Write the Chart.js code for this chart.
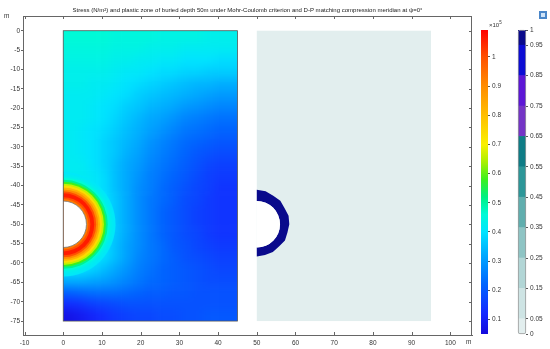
<!DOCTYPE html>
<html><head><meta charset="utf-8">
<script src="https://cdn.jsdelivr.net/npm/chart.js@4.4.1/dist/chart.umd.min.js"></script>
<style>
html,body{margin:0;padding:0;background:#fff;}
#wrap{position:relative;width:550px;height:349px;overflow:hidden;background:#fff;}
canvas{position:absolute;top:0;}
</style></head><body>
<div id="wrap">
<canvas id="main" width="550" height="349" style="left:0;width:550px;height:349px"></canvas>
<canvas id="cb1" width="40" height="349" style="left:476px;width:40px;height:349px"></canvas>
<canvas id="cb2" width="36" height="349" style="left:514px;width:36px;height:349px"></canvas>
</div>
<script>
// ---------- DATA ----------
const titleText = "Stress (N/m\u00B2) and plastic zone of buried depth 50m under Mohr-Coulomb criterion and D-P matching compression meridian at \u03C8=0\u00B0";
const xTicks = [-10,0,10,20,30,40,50,60,70,80,90,100];
const yTicks = [0,-5,-10,-15,-20,-25,-30,-35,-40,-45,-50,-55,-60,-65,-70,-75];
const leftDomainX = [0,45];
const rightDomainX = [50,95];
const domainY = [-75,0];
const holeCenterY = -50;
const holeRadius = 6;

// stress field (x1e5 N/m^2) on 3 m cells
const stressX = [1.5,4.5,7.5,10.5,13.5,16.5,19.5,22.5,25.5,28.5,31.5,34.5,37.5,40.5,43.5];
const stressY = [-1.5,-4.5,-7.5,-10.5,-13.5,-16.5,-19.5,-22.5,-25.5,-28.5,-31.5,-34.5,-37.5,-40.5,-43.5,-46.5,-49.5,-52.5,-55.5,-58.5,-61.5,-64.5,-67.5,-70.5,-73.5];
const stressGrid = [
 [.46,.46,.46,.46,.45,.45,.45,.45,.44,.44,.44,.44,.43,.43,.43],
 [.45,.45,.45,.45,.44,.44,.44,.43,.43,.43,.42,.42,.42,.42,.42],
 [.44,.44,.44,.44,.43,.43,.42,.42,.41,.41,.40,.40,.40,.39,.39],
 [.43,.43,.43,.43,.42,.41,.41,.40,.39,.39,.38,.38,.37,.37,.37],
 [.43,.43,.42,.42,.41,.40,.39,.38,.37,.36,.35,.34,.34,.33,.33],
 [.42,.42,.42,.41,.40,.39,.37,.36,.35,.34,.33,.32,.31,.30,.30],
 [.42,.42,.41,.40,.39,.37,.36,.34,.33,.32,.30,.29,.28,.27,.27],
 [.42,.42,.41,.40,.38,.36,.34,.32,.31,.29,.27,.26,.25,.24,.24],
 [.42,.41,.40,.39,.37,.35,.33,.31,.29,.27,.25,.24,.23,.22,.22],
 [.42,.41,.40,.38,.36,.34,.32,.29,.27,.25,.23,.22,.21,.20,.20],
 [.42,.41,.40,.38,.36,.33,.31,.28,.26,.24,.22,.20,.19,.18,.18],
 [.42,.42,.40,.38,.35,.32,.30,.27,.25,.23,.21,.19,.17,.16,.16],
 [.42,.42,.41,.39,.35,.32,.29,.26,.24,.22,.20,.18,.16,.15,.15],
 [.42,.42,.41,.39,.35,.32,.28,.26,.23,.21,.19,.17,.16,.14,.14],
 [.42,.42,.42,.40,.36,.32,.28,.25,.23,.21,.18,.17,.15,.14,.14],
 [.42,.42,.42,.40,.36,.32,.28,.25,.22,.20,.18,.16,.15,.14,.14],
 [.42,.42,.42,.41,.36,.32,.28,.25,.22,.20,.18,.16,.15,.14,.14],
 [.42,.42,.42,.40,.36,.32,.28,.25,.22,.20,.18,.17,.15,.14,.14],
 [.42,.42,.42,.40,.35,.31,.28,.25,.23,.20,.19,.17,.16,.15,.15],
 [.42,.42,.41,.39,.35,.31,.27,.25,.23,.21,.19,.18,.17,.16,.16],
 [.40,.40,.38,.35,.32,.29,.26,.24,.22,.21,.20,.19,.18,.17,.17],
 [.33,.33,.32,.31,.29,.27,.25,.23,.22,.21,.20,.19,.18,.18,.18],
 [.22,.23,.24,.24,.24,.23,.22,.21,.21,.20,.20,.19,.19,.19,.19],
 [.13,.14,.16,.17,.18,.19,.19,.19,.19,.19,.19,.19,.19,.19,.19],
 [.07,.09,.11,.13,.15,.16,.17,.17,.18,.18,.19,.19,.20,.20,.20]
];
// stress around the opening, by distance from its centre (m)
const ringEdges  = [6,6.5,7,7.5,8,8.5,9,9.5,10,10.5,11,11.5,12,12.5,13,13.5];
const ringStress = [.93,1.00,1.06,1.06,1.00,.90,.82,.74,.66,.58,.51,.46,.43,.42,.41];

// plastic zone outer boundary (angle in degrees, radius in m)
const plasticAngle  = [-90,-75,-60,-45,-30,-15,0,15,30,45,60,75,90];
const plasticOuterR = [8.3,8.2,8.3,8.1,8.4,8.2,8.4,8.5,8.3,8.6,8.5,8.8,8.9];

// colour bars
const stressRange = [0.05,1.092];
const stressBarTicks = [0.1,0.2,0.3,0.4,0.5,0.6,0.7,0.8,0.9,1];
const plasticBandEdges = [0,0.05,0.15,0.25,0.35,0.45,0.55,0.65,0.75,0.85,0.95,1];
const plasticBarTicks = [0,0.05,0.15,0.25,0.35,0.45,0.55,0.65,0.75,0.85,0.95,1];

// ---------- STYLE ----------
const plasticBandColors = ['rgb(226,238,238)','rgb(206,228,228)','rgb(178,214,214)','rgb(142,196,196)','rgb(96,174,174)','rgb(44,150,152)','rgb(14,124,134)','rgb(116,52,198)','rgb(92,22,214)','rgb(12,12,212)','rgb(10,10,140)'];
const jetStops = [
 [0.05,[20,10,220]],[0.12,[20,40,255]],[0.22,[0,100,255]],[0.32,[0,168,255]],
 [0.40,[0,228,255]],[0.46,[0,250,215]],[0.52,[0,240,130]],[0.58,[60,240,30]],
 [0.64,[170,240,0]],[0.70,[250,240,0]],[0.80,[255,190,0]],[0.90,[255,140,0]],
 [1.00,[255,80,0]],[1.092,[255,0,0]]
];
function jetRGB(v){
  if(v<=jetStops[0][0]) return jetStops[0][1];
  for(let i=1;i<jetStops.length;i++){
    if(v<=jetStops[i][0]){
      const [a,ca]=jetStops[i-1],[b,cb]=jetStops[i];const t=(v-a)/(b-a);
      return ca.map((c,k)=>Math.round(c+(cb[k]-c)*t));
    }
  }
  return jetStops[jetStops.length-1][1];
}
const jet = v => 'rgb('+jetRGB(v).join(',')+')';
const FONT = '"Liberation Sans", Arial, sans-serif';
const TXT = '#333';
const AX = '#666';

// ---------- MAIN CHART ----------
const fieldPlugin = {
  id:'fields',
  beforeDatasetsDraw(chart){
    const {ctx, scales:{x:xs,y:ys}} = chart;
    const px=v=>xs.getPixelForValue(v), py=v=>ys.getPixelForValue(v);
    const L=px(leftDomainX[0]),R=px(leftDomainX[1]),T=py(domainY[1]),B=py(domainY[0]);
    const off=document.createElement('canvas');off.width=chart.width;off.height=chart.height;
    const o=off.getContext('2d');
    const hx=(stressX[1]-stressX[0])/2, hy=(stressY[0]-stressY[1])/2;
    stressY.forEach((yc,j)=>stressX.forEach((xc,i)=>{
      let x0=px(xc-hx),x1=px(xc+hx),y0=py(yc+hy),y1=py(yc-hy);
      if(i===0)x0-=20; if(i===stressX.length-1)x1+=20;
      if(j===0)y0-=20; if(j===stressY.length-1)y1+=20;
      o.fillStyle=jet(stressGrid[j][i]);o.fillRect(x0,y0,x1-x0+0.6,y1-y0+0.6);
    }));
    ctx.save();
    ctx.beginPath();ctx.rect(L,T,R-L,B-T);ctx.clip();
    ctx.filter='blur(5px)';ctx.drawImage(off,0,0);ctx.filter='none';
    const cx=px(0),cy=py(holeCenterY);
    for(let k=ringStress.length-1;k>=0;k--){
      const r=ringEdges[k+1];
      const rx=px(r)-px(0), ry=py(holeCenterY-r)-cy;
      ctx.beginPath();ctx.moveTo(cx,cy);ctx.ellipse(cx,cy,rx,ry,0,-Math.PI/2,Math.PI/2);ctx.closePath();
      ctx.fillStyle=jet(ringStress[k]);ctx.fill();
    }
    const hrx=px(holeRadius)-px(0), hry=py(holeCenterY-holeRadius)-cy;
    ctx.beginPath();ctx.moveTo(cx,cy);ctx.ellipse(cx,cy,hrx,hry,0,-Math.PI/2,Math.PI/2);ctx.closePath();
    ctx.fillStyle='#fff';ctx.fill();
    ctx.restore();
    ctx.save();
    ctx.strokeStyle='#777';ctx.lineWidth=0.8;
    ctx.beginPath();ctx.ellipse(cx,cy,hrx,hry,0,-Math.PI/2,Math.PI/2);ctx.stroke();
    ctx.strokeStyle='#555';ctx.lineWidth=0.8;
    ctx.strokeRect(L,T,R-L,B-T);
    ctx.restore();

    const L2=px(rightDomainX[0]),R2=px(rightDomainX[1]);
    ctx.save();
    ctx.fillStyle=plasticBandColors[0];
    ctx.fillRect(L2,T,R2-L2,B-T);
    const cx2=px(rightDomainX[0]);
    ctx.beginPath();
    plasticAngle.forEach((a,i)=>{
      const t=a*Math.PI/180, r=plasticOuterR[i];
      const X=px(rightDomainX[0]+r*Math.cos(t)), Y=py(holeCenterY+r*Math.sin(t));
      if(i===0)ctx.moveTo(X,Y);else ctx.lineTo(X,Y);
    });
    ctx.ellipse(cx2,cy,hrx,hry,0,-Math.PI/2,Math.PI/2,false);
    ctx.closePath();
    ctx.fillStyle=plasticBandColors[plasticBandColors.length-1];ctx.fill();
    ctx.beginPath();ctx.moveTo(cx2,cy);ctx.ellipse(cx2,cy,hrx,hry,0,-Math.PI/2,Math.PI/2);ctx.closePath();
    ctx.fillStyle='#fff';ctx.fill();
    ctx.restore();
  },
  afterDraw(chart){
    const {ctx,chartArea:a,scales:{x:xs,y:ys}}=chart;
    ctx.save();
    ctx.strokeStyle=AX;ctx.lineWidth=1;
    ctx.beginPath();
    ctx.moveTo(a.left,a.top+0.5);ctx.lineTo(a.right,a.top+0.5);
    ctx.moveTo(a.right-0.5,a.top);ctx.lineTo(a.right-0.5,a.bottom);
    xTicks.forEach(v=>{const X=Math.round(xs.getPixelForValue(v))+0.5;
      ctx.moveTo(X,a.top);ctx.lineTo(X,a.top+3);ctx.moveTo(X,a.bottom);ctx.lineTo(X,a.bottom-3);});
    yTicks.forEach(v=>{const Y=Math.round(ys.getPixelForValue(v))+0.5;
      ctx.moveTo(a.right,Y);ctx.lineTo(a.right-3,Y);});
    ctx.stroke();
    ctx.fillStyle=TXT;ctx.font='6.5px '+FONT;ctx.textBaseline='middle';ctx.textAlign='left';
    ctx.fillText('m',4,16);
    ctx.fillText('m',466,342);
    let fs=10;ctx.font=fs+'px '+FONT;
    const w=ctx.measureText(titleText).width;fs=fs*350/w;
    ctx.font=fs.toFixed(2)+'px '+FONT;ctx.textAlign='center';ctx.fillStyle='#222';
    ctx.fillText(titleText,(a.left+a.right)/2,10.5);
    ctx.fillStyle='#4a86c8';ctx.fillRect(539,11,8,8);
    ctx.fillStyle='#cfe3f7';ctx.fillRect(541,13,4,4);
    ctx.restore();
  }
};

new Chart(document.getElementById('main'),{
  type:'scatter',
  data:{datasets:[{data:[],pointRadius:0}]},
  options:{
    responsive:false,animation:false,devicePixelRatio:1,
    layout:{padding:{left:0,right:78,top:16,bottom:0}},
    plugins:{legend:{display:false},tooltip:{enabled:false},title:{display:false}},
    scales:{
      x:{type:'linear',min:-10.4,max:105.6,
         afterBuildTicks:s=>{s.ticks=xTicks.map(v=>({value:v}));},
         afterFit:s=>{s.height=14;},
         ticks:{font:{size:6.5,family:FONT},color:TXT,padding:4,maxRotation:0,autoSkip:false},
         grid:{drawOnChartArea:false,drawTicks:false},
         border:{color:AX,width:1}},
      y:{type:'linear',min:-78.6,max:3.8,
         afterBuildTicks:s=>{s.ticks=yTicks.map(v=>({value:v}));},
         afterFit:s=>{s.width=23;},
         ticks:{font:{size:6.5,family:FONT},color:TXT,padding:1,autoSkip:false},
         grid:{drawOnChartArea:false,tickLength:2,color:AX},
         border:{color:AX,width:1}}
    }
  },
  plugins:[fieldPlugin]
});

const cb1Plugin={id:'cb1txt',afterDraw(chart){
  const c=chart.ctx;c.save();c.fillStyle=TXT;c.font='6px '+FONT;c.textBaseline='alphabetic';
  c.fillText('\u00D710',13,27);c.font='4.5px '+FONT;c.fillText('5',13+c.measureText('\u00D710').width*1.33,23.5);
  c.restore();}};
new Chart(document.getElementById('cb1'),{
  type:'bar',
  data:{labels:[''],datasets:[{data:[[stressRange[0],stressRange[1]]],borderWidth:0,barPercentage:1,categoryPercentage:1,
    backgroundColor:(ctx)=>{const ch=ctx.chart;const ys=ch.scales.y;if(!ch.chartArea||!ys)return '#00f';
      const y0=ys.getPixelForValue(stressRange[0]),y1=ys.getPixelForValue(stressRange[1]);
      const g=ch.ctx.createLinearGradient(0,y0,0,y1);
      jetStops.forEach(([v,c])=>g.addColorStop((v-stressRange[0])/(stressRange[1]-stressRange[0]),'rgb('+c.join(',')+')'));
      return g;}}]},
  options:{responsive:false,animation:false,devicePixelRatio:1,
    layout:{padding:{left:5,right:0,top:30,bottom:15}},
    plugins:{legend:{display:false},tooltip:{enabled:false}},
    scales:{x:{display:false},
      y:{position:'right',min:stressRange[0],max:stressRange[1],
        afterBuildTicks:s=>{s.ticks=stressBarTicks.map(v=>({value:v}));},
        afterFit:s=>{s.width=28;},
        ticks:{font:{size:6.5,family:FONT},color:TXT,padding:2,callback:v=>String(v)},
        grid:{drawOnChartArea:false,tickLength:2,color:'#555'},border:{display:false}}}},
  plugins:[cb1Plugin]
});

const cb2Plugin={id:'cb2frame',afterDatasetsDraw(chart){
  const {ctx,chartArea:a}=chart;ctx.save();ctx.strokeStyle='#999';ctx.lineWidth=0.8;
  ctx.beginPath();ctx.roundRect(a.left+0.4,a.top+0.4,a.right-a.left-0.8,a.bottom-a.top-0.8,1.5);ctx.stroke();ctx.restore();}};
new Chart(document.getElementById('cb2'),{
  type:'bar',
  data:{labels:[''],datasets:plasticBandColors.map((c,i)=>({data:[[plasticBandEdges[i],plasticBandEdges[i+1]]],backgroundColor:c,borderWidth:0,
    grouped:false,barPercentage:1,categoryPercentage:1}))},
  options:{responsive:false,animation:false,devicePixelRatio:1,
    layout:{padding:{left:4,right:0,top:30,bottom:15}},
    plugins:{legend:{display:false},tooltip:{enabled:false}},
    scales:{x:{display:false},
      y:{position:'right',min:0,max:1,
        afterBuildTicks:s=>{s.ticks=plasticBarTicks.map(v=>({value:v}));},
        afterFit:s=>{s.width=24;},
        ticks:{font:{size:6.5,family:FONT},color:TXT,padding:2,callback:v=>String(v)},
        grid:{drawOnChartArea:false,tickLength:2,color:'#555'},border:{display:false}}}},
  plugins:[cb2Plugin]
});
</script>
</body></html>
